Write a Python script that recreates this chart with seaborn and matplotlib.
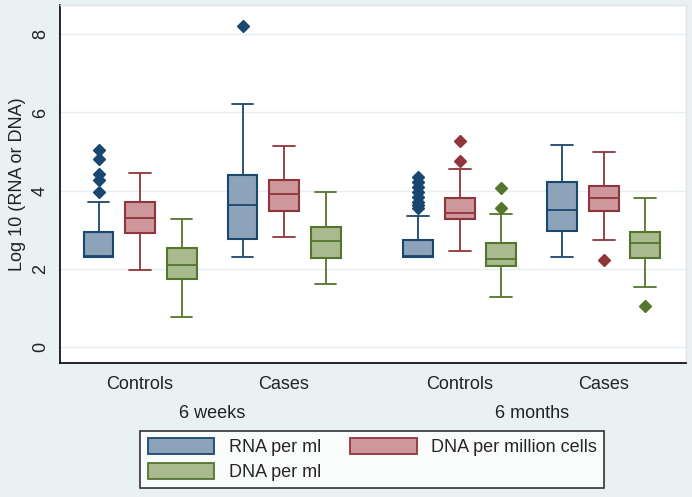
import numpy as np
import pandas as pd
import matplotlib.pyplot as plt
from matplotlib.patches import Patch
import seaborn as sns

# box summaries (log10 scale), one entry per group:
# 6 weeks Controls, 6 weeks Cases, 6 months Controls, 6 months Cases
status = ["Controls", "Cases", "Controls", "Cases"]
periods = ["6 weeks", "6 months"]
measures = ["RNA per ml", "DNA per million cells", "DNA per ml"]

rna_lo = [2.31, 2.31, 2.31, 2.31]
rna_q1 = [2.31, 2.77, 2.31, 2.97]
rna_med = [2.34, 3.63, 2.34, 3.51]
rna_q3 = [2.93, 4.40, 2.74, 4.21]
rna_hi = [3.71, 6.21, 3.35, 5.17]
rna_out = [[3.96, 4.27, 4.42, 4.80, 5.04], [8.22],
           [3.55, 3.63, 3.72, 3.84, 3.97, 4.10, 4.23, 4.36], []]

dnac_lo = [1.96, 2.81, 2.45, 2.74]
dnac_q1 = [2.92, 3.48, 3.27, 3.47]
dnac_med = [3.31, 3.91, 3.43, 3.82]
dnac_q3 = [3.72, 4.27, 3.82, 4.13]
dnac_hi = [4.44, 5.14, 4.55, 4.98]
dnac_out = [[], [], [4.76, 5.28], [2.22]]

dnam_lo = [0.76, 1.61, 1.27, 1.54]
dnam_q1 = [1.73, 2.27, 2.07, 2.27]
dnam_med = [2.11, 2.70, 2.24, 2.67]
dnam_q3 = [2.54, 3.08, 2.65, 2.93]
dnam_hi = [3.27, 3.97, 3.39, 3.82]
dnam_out = [[], [], [3.56, 4.07], [1.06]]

# layout / style
xpos = [0, 1, 2.22, 3.22]
fills = ["#8CA3B9", "#CD979C", "#A9BA8E"]
edges = ["#1A476F", "#90353B", "#55752F"]
bg = "#EAF1F3"

summ = {
    measures[0]: (rna_lo, rna_q1, rna_med, rna_q3, rna_hi, rna_out),
    measures[1]: (dnac_lo, dnac_q1, dnac_med, dnac_q3, dnac_hi, dnac_out),
    measures[2]: (dnam_lo, dnam_q1, dnam_med, dnam_q3, dnam_hi, dnam_out),
}

# seaborn wants raw values: repeat the summary values so that its
# quartiles / whiskers / fliers come out
rows = []
for m, (lo, q1, med, q3, hi, out) in summ.items():
    for i in range(4):
        L = [v for v in out[i] if v < q1[i]]
        H = [v for v in out[i] if v > q3[i]]
        k = max(len(L), len(H)) + 1
        vals = (L + [lo[i]] + [q1[i]] * (k - len(L) - 1) + [q1[i]] * k
                + [med[i]] * k + [q3[i]] * (k - len(H)) + [hi[i]] + H)
        rows += [(xpos[i], m, v) for v in vals]
df = pd.DataFrame(rows, columns=["x", "measure", "value"])

sns.set_style("white")
plt.rcParams["font.family"] = ["Liberation Sans", "DejaVu Sans"]

fig = plt.figure(figsize=(6.92, 4.97), dpi=100, facecolor=bg)
ax = fig.add_axes([0.0867, 0.2696, 0.9043, 0.7204])
ax.set_facecolor("white")

sns.boxplot(data=df, x="x", y="value", hue="measure", hue_order=measures,
            native_scale=True, palette=fills, saturation=1, width=0.865,
            gap=0.28, whis=1.5, linewidth=1.3, legend=False, ax=ax,
            flierprops=dict(marker="D", markersize=6))

def nearest(fc):
    d = [np.sum((np.array(fc[:3]) - np.array(plt.matplotlib.colors.to_rgb(f))) ** 2)
         for f in fills]
    return int(np.argmin(d))

for cont in ax.containers:
    e = edges[nearest(cont.boxes[0].get_facecolor())]
    for b in cont.boxes:
        b.set_edgecolor(e)
        b.set_linewidth(1.5)
    for ln in list(cont.whiskers) + list(cont.medians):
        ln.set_color(e)
    for c in cont.caps:
        c.set_color(e)
        xd = np.asarray(c.get_xdata(), dtype=float)
        mid = xd.mean()
        c.set_xdata(mid + (xd - mid) * 1.45)
    for f in cont.fliers:
        f.set_markerfacecolor(e)
        f.set_markeredgecolor(e)

ax.set_xlim(-0.556, 3.79)
ax.set_ylim(-0.41, 8.75)
ax.set_yticks([0, 2, 4, 6, 8])
ax.yaxis.grid(True, color="#E6EEF1", lw=1)
ax.set_axisbelow(True)
ax.set_xticks(xpos, status)
ax.tick_params(axis="x", length=0, pad=9, labelsize=13, colors="#222222")
ax.tick_params(axis="y", direction="out", length=5, width=1, color="black",
               labelrotation=90, labelsize=13, labelcolor="#222222", pad=3)
for t in ax.get_yticklabels():
    t.set_va("center")
ax.set_xlabel("")
ax.set_ylabel("Log 10 (RNA or DNA)", fontsize=13, color="#222222", labelpad=4)
for s in ["left", "bottom"]:
    ax.spines[s].set_color("black")
    ax.spines[s].set_linewidth(1.2)
for s in ["top", "right"]:
    ax.spines[s].set_color("#DCE5E8")
    ax.spines[s].set_linewidth(1)

trans = ax.get_xaxis_transform()
ax.text(np.mean(xpos[:2]), -0.14, periods[0], transform=trans, ha="center",
        va="center", fontsize=13, color="#222222")
ax.text(np.mean(xpos[2:]), -0.14, periods[1], transform=trans, ha="center",
        va="center", fontsize=13, color="#222222")

handles = [Patch(facecolor=fills[i], edgecolor=edges[i], lw=1.3, label=measures[i])
           for i in [0, 2, 1]]
leg = fig.legend(handles=handles, ncol=2, loc="center", bbox_to_anchor=(0.538, 0.0755),
                 fontsize=13, frameon=True, fancybox=False, handlelength=3.7,
                 handleheight=1.0, handletextpad=0.8, columnspacing=1.6,
                 labelspacing=0.35, borderpad=0.4)
leg.get_frame().set_edgecolor("black")
leg.get_frame().set_linewidth(1.2)
leg.get_frame().set_facecolor("white")

fig.savefig("out.png", dpi=100, facecolor=bg)
